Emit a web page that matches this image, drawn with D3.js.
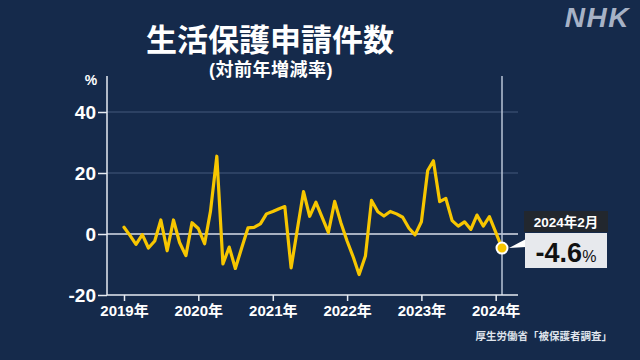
<!DOCTYPE html>
<html>
<head>
<meta charset="utf-8">
<script src="https://cdn.jsdelivr.net/npm/d3@7"></script>
<style>
  html, body { margin: 0; padding: 0; background: #152a4b; }
  svg { display: block; }
  text { font-family: "Liberation Sans", "Noto Sans CJK JP", sans-serif; font-weight: 700; }
</style>
</head>
<body>
<svg id="chart" width="640" height="360"></svg>
<script>
// ---- data (year-over-year change, %) ----
const startMonth = "2019-01";
const values2019 = [2.2, -0.6, -3.4, -0.2, -4.6, -2.3, 4.6, -5.5, 4.6, -2.8, -7.1, 3.7];
const values2020 = [1.8, -3.2, 7.5, 25.5, -9.8, -4.3, -11.3, -4.6, 2.0, 2.2, 3.3, 6.6];
const values2021 = [7.4, 8.3, 9.0, -11.1, 1.3, 13.9, 5.8, 10.4, 5.4, 0.5, 10.7, 3.8];
const values2022 = [-2.3, -7.7, -13.3, -7.2, 11.0, 7.3, 5.9, 7.4, 6.6, 5.5, 1.9, -0.3];
const values2023 = [4.0, 20.8, 24.0, 10.6, 11.7, 4.4, 2.6, 4.0, 1.5, 6.2, 2.6, 5.7];
const values2024 = [0.6, -4.6];
const yearLabels = ["2019年", "2020年", "2021年", "2022年", "2023年", "2024年"];
const yTicks = [-20, 0, 20, 40];
const title = "生活保護申請件数";
const subtitle = "(対前年増減率)";
const unitLabel = "%";
const calloutDate = "2024年2月";
const calloutValue = "-4.6";
const sourceText = "厚生労働省「被保護者調査」";

const allValues = [].concat(values2019, values2020, values2021, values2022, values2023, values2024);
const parse = d3.timeParse("%Y-%m");
const t0 = parse(startMonth);
const data = allValues.map((v, i) => ({ date: d3.timeMonth.offset(t0, i), value: v }));
const last = data[data.length - 1];

const svg = d3.select("#chart");
const bg = "#152a4b";
svg.append("rect").attr("width", 640).attr("height", 360).attr("fill", bg);

const x = d3.scaleTime().domain([t0, last.date]).range([124, 502]);
const y = d3.scaleLinear().domain([-20, 40]).range([295, 112]);
const axisX = 107, axisTop = 76, plotRight = 518;

// gridlines
svg.append("g").selectAll("line").data(yTicks.filter(d => d > 0)).join("line")
  .attr("x1", axisX).attr("x2", plotRight)
  .attr("y1", d => y(d)).attr("y2", d => y(d))
  .attr("stroke", "#354a6b").attr("stroke-width", 1.5);

// zero line
svg.append("line").attr("x1", axisX).attr("x2", plotRight)
  .attr("y1", y(0)).attr("y2", y(0))
  .attr("stroke", "#d8dee8").attr("stroke-width", 1.5);

// latest vertical marker line
svg.append("line").attr("x1", x(last.date)).attr("x2", x(last.date))
  .attr("y1", axisTop).attr("y2", y(-20))
  .attr("stroke", "#b9c4d6").attr("stroke-width", 1.5);

// y axis
const yAxis = d3.axisLeft(y).tickValues(yTicks).tickSize(9).tickPadding(2).tickFormat(d => String(d));
const gy = svg.append("g").attr("transform", `translate(${axisX},0)`).call(yAxis);
gy.select(".domain").remove();
gy.selectAll(".tick line").attr("stroke", "#e6ebf2").attr("stroke-width", 1.5);
gy.selectAll(".tick text").attr("fill", "#ffffff").attr("font-size", 19)
  .attr("font-family", "Liberation Sans, sans-serif").attr("font-weight", 700);
svg.append("line").attr("x1", axisX).attr("x2", axisX).attr("y1", axisTop).attr("y2", y(-20))
  .attr("stroke", "#e6ebf2").attr("stroke-width", 1.5);

// x axis
const yearDates = yearLabels.map((_, i) => d3.timeYear.offset(t0, i));
const xAxis = d3.axisBottom(x).tickValues(yearDates).tickSize(6).tickPadding(4)
  .tickFormat((d, i) => yearLabels[i]);
const gx = svg.append("g").attr("transform", `translate(0,${y(-20)})`).call(xAxis);
gx.select(".domain").remove();
gx.selectAll(".tick line").attr("stroke", "#e6ebf2").attr("stroke-width", 1.5);
gx.selectAll(".tick text").attr("fill", "#ffffff").attr("font-size", 15)
  .attr("font-family", "Liberation Sans, Noto Sans CJK JP, sans-serif").attr("font-weight", 700);
svg.append("line").attr("x1", axisX).attr("x2", plotRight).attr("y1", y(-20)).attr("y2", y(-20))
  .attr("stroke", "#e6ebf2").attr("stroke-width", 1.5);

// line
const line = d3.line().x(d => x(d.date)).y(d => y(d.value));
svg.append("path").datum(data).attr("d", line)
  .attr("fill", "none").attr("stroke", "#f7c600").attr("stroke-width", 3.2)
  .attr("stroke-linejoin", "round").attr("stroke-linecap", "round");

// callout pointer
const px = x(last.date), py = y(last.value);
svg.append("path")
  .attr("d", `M${px + 7},${py} L${px + 24},${py - 9} L${px + 24},${py - 1} Z`)
  .attr("fill", "#ffffff");

// end dot
svg.append("circle").attr("cx", px).attr("cy", py).attr("r", 5.5)
  .attr("fill", "#f7c600").attr("stroke", "#ffffff").attr("stroke-width", 2);

// callout box
const bx = 524, bw = 84;
svg.append("rect").attr("x", bx).attr("y", 211).attr("width", bw).attr("height", 21).attr("fill", "#22272e");
svg.append("text").attr("x", bx + bw / 2).attr("y", 227).attr("text-anchor", "middle")
  .attr("fill", "#ffffff").attr("font-size", 13.5).text(calloutDate);
svg.append("rect").attr("x", bx + 1).attr("y", 233).attr("width", bw - 2).attr("height", 35).attr("fill", "#e7e9ed");
const vt = svg.append("text").attr("x", bx + bw / 2).attr("y", 262).attr("text-anchor", "middle").attr("fill", "#111111");
vt.append("tspan").attr("font-size", 27).text(calloutValue);
vt.append("tspan").attr("font-size", 16).attr("font-weight", 400).text(unitLabel);

// titles
svg.append("text").attr("x", 270).attr("y", 51).attr("text-anchor", "middle")
  .attr("fill", "#ffffff").attr("font-size", 31).attr("font-family", "Noto Sans CJK JP, sans-serif").text(title);
svg.append("text").attr("x", 271).attr("y", 76).attr("text-anchor", "middle")
  .attr("fill", "#ffffff").attr("font-size", 18).attr("letter-spacing", 0.5)
  .attr("font-family", "Noto Sans CJK JP, sans-serif").text(subtitle);

// unit
svg.append("text").attr("x", 91).attr("y", 85).attr("text-anchor", "middle")
  .attr("fill", "#ffffff").attr("font-size", 14).text(unitLabel);

// source
svg.append("text").attr("x", 612).attr("y", 340).attr("text-anchor", "end")
  .attr("fill", "#dfe4ec").attr("font-size", 10.5).attr("font-family", "Noto Sans CJK JP, sans-serif").text(sourceText);

// NHK logo
svg.append("text").attr("x", 630).attr("y", 27).attr("text-anchor", "end")
  .attr("fill", "#a7b2c6").attr("font-size", 28).attr("font-style", "italic")
  .attr("font-weight", 900).attr("letter-spacing", 1.5).text("NHK");
</script>
</body>
</html>
